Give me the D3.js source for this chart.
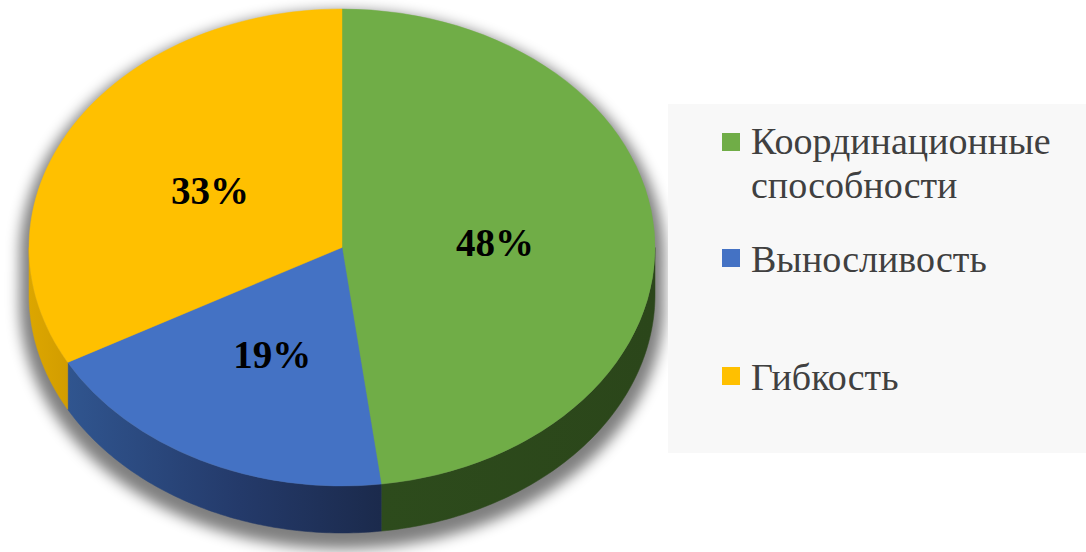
<!DOCTYPE html>
<html>
<head>
<meta charset="utf-8">
<script src="https://cdn.jsdelivr.net/npm/d3@7/dist/d3.min.js"></script>
<style>
  html, body { margin: 0; padding: 0; background: #ffffff; }
  svg { display: block; }
</style>
</head>
<body>
<svg id="chart" width="1086" height="552"></svg>
<script>
// Share of physical qualities
const categories = ["Координационные способности", "Выносливость", "Гибкость"];
const legendLines = [["Координационные", "способности"], ["Выносливость"], ["Гибкость"]];
const values = [48, 19, 33];
const labels = ["48%", "19%", "33%"];
const topColors = ["#70ad47", "#4472c4", "#ffc000"];

const SERIF = '"Liberation Serif", "Times New Roman", serif';
const svg = d3.select("#chart");

// Pie geometry (elliptical top face + extruded side)
const cx = 342, cy = 247.5, rx = 313, ry = 238.5, depth = 47;

const pie = d3.pie().sort(null).value(d => d)(values);

const defs = svg.append("defs");
const blur = defs.append("filter").attr("id", "shadowBlur")
  .attr("x", "-20%").attr("y", "-20%").attr("width", "140%").attr("height", "140%");
blur.append("feGaussianBlur").attr("stdDeviation", 7);

// Side wall gradients
const sideStops = [
  [["0%", "#2d4b1c"], ["100%", "#2b461a"]],
  [["0%", "#30558f"], ["55%", "#243a6a"], ["100%", "#1b2a4c"]],
  [["0%", "#dca600"], ["100%", "#d29d00"]]
];

const ex = a => cx + rx * Math.sin(a);
const ey = a => cy - ry * Math.cos(a);
const lineGen = d3.line().x(d => d[0]).y(d => d[1]);

// Soft drop shadow under the whole disc
const sh = 1.03;
const silhouette = d3.range(0, 361, 2).map(d => d * Math.PI / 180).map(a => [
  cx + sh * rx * Math.sin(a),
  cy - sh * ry * Math.cos(a) + (Math.cos(a) < 0 ? depth : 0) + 9
]);
svg.append("path")
  .attr("d", lineGen(silhouette) + "Z")
  .attr("fill", "#000")
  .attr("opacity", 0.5)
  .attr("filter", "url(#shadowBlur)");

// Side walls (only the front half, 90°..270°, is visible)
pie.forEach((p, i) => {
  const a0 = Math.max(p.startAngle, Math.PI / 2);
  const a1 = Math.min(p.endAngle, 3 * Math.PI / 2);
  if (a1 <= a0) return;
  const n = 80;
  const angs = d3.range(n + 1).map(k => a0 + (a1 - a0) * k / n);
  const top = angs.map(a => [ex(a), ey(a)]);
  const bot = angs.slice().reverse().map(a => [ex(a), ey(a) + depth]);
  const xs = top.map(d => d[0]);
  const gid = "side" + i;
  const g = defs.append("linearGradient").attr("id", gid)
    .attr("gradientUnits", "userSpaceOnUse")
    .attr("x1", d3.min(xs)).attr("x2", d3.max(xs)).attr("y1", 0).attr("y2", 0);
  sideStops[i].forEach(s => g.append("stop").attr("offset", s[0]).attr("stop-color", s[1]));
  svg.append("path")
    .attr("d", lineGen(top.concat(bot)) + "Z")
    .attr("fill", `url(#${gid})`)
    .attr("stroke", `url(#${gid})`)
    .attr("stroke-width", 0.5);
});

// Top faces: circular arcs squashed into an ellipse
const arc = d3.arc().innerRadius(0).outerRadius(rx);
const topG = svg.append("g")
  .attr("transform", `translate(${cx},${cy}) scale(1,${ry / rx})`);
topG.selectAll("path.slice")
  .data(pie)
  .join("path")
  .attr("class", "slice")
  .attr("d", arc)
  .attr("fill", (d, i) => topColors[i])
  .attr("stroke", (d, i) => topColors[i])
  .attr("stroke-width", 0.5);

// Percentage labels
const labelK = 0.49;
svg.selectAll("text.pct")
  .data(pie)
  .join("text")
  .attr("class", "pct")
  .attr("x", d => cx + labelK * rx * Math.sin((d.startAngle + d.endAngle) / 2))
  .attr("y", d => cy - labelK * ry * Math.cos((d.startAngle + d.endAngle) / 2) + 16)
  .attr("text-anchor", "middle")
  .style("font-family", SERIF)
  .style("font-weight", "bold")
  .style("font-size", "39px")
  .attr("fill", "#000")
  .text((d, i) => labels[i]);

// Legend panel
const lg = svg.append("g");
lg.append("rect")
  .attr("x", 668).attr("y", 104).attr("width", 418).attr("height", 349)
  .attr("fill", "#f8f8f8");

const legendY = [133, 249, 367];
const legendBase = [154, 272, 390];
legendLines.forEach((lines, i) => {
  lg.append("rect")
    .attr("x", 722).attr("y", legendY[i]).attr("width", 18).attr("height", 18)
    .attr("fill", topColors[i]);
  const t = lg.append("text")
    .attr("x", 751).attr("y", legendBase[i])
    .style("font-family", SERIF)
    .style("font-size", "38px")
    .attr("fill", "#404040");
  lines.forEach((ln, j) => {
    t.append("tspan").attr("x", 751).attr("dy", j === 0 ? 0 : 44).text(ln);
  });
});
</script>
</body>
</html>
